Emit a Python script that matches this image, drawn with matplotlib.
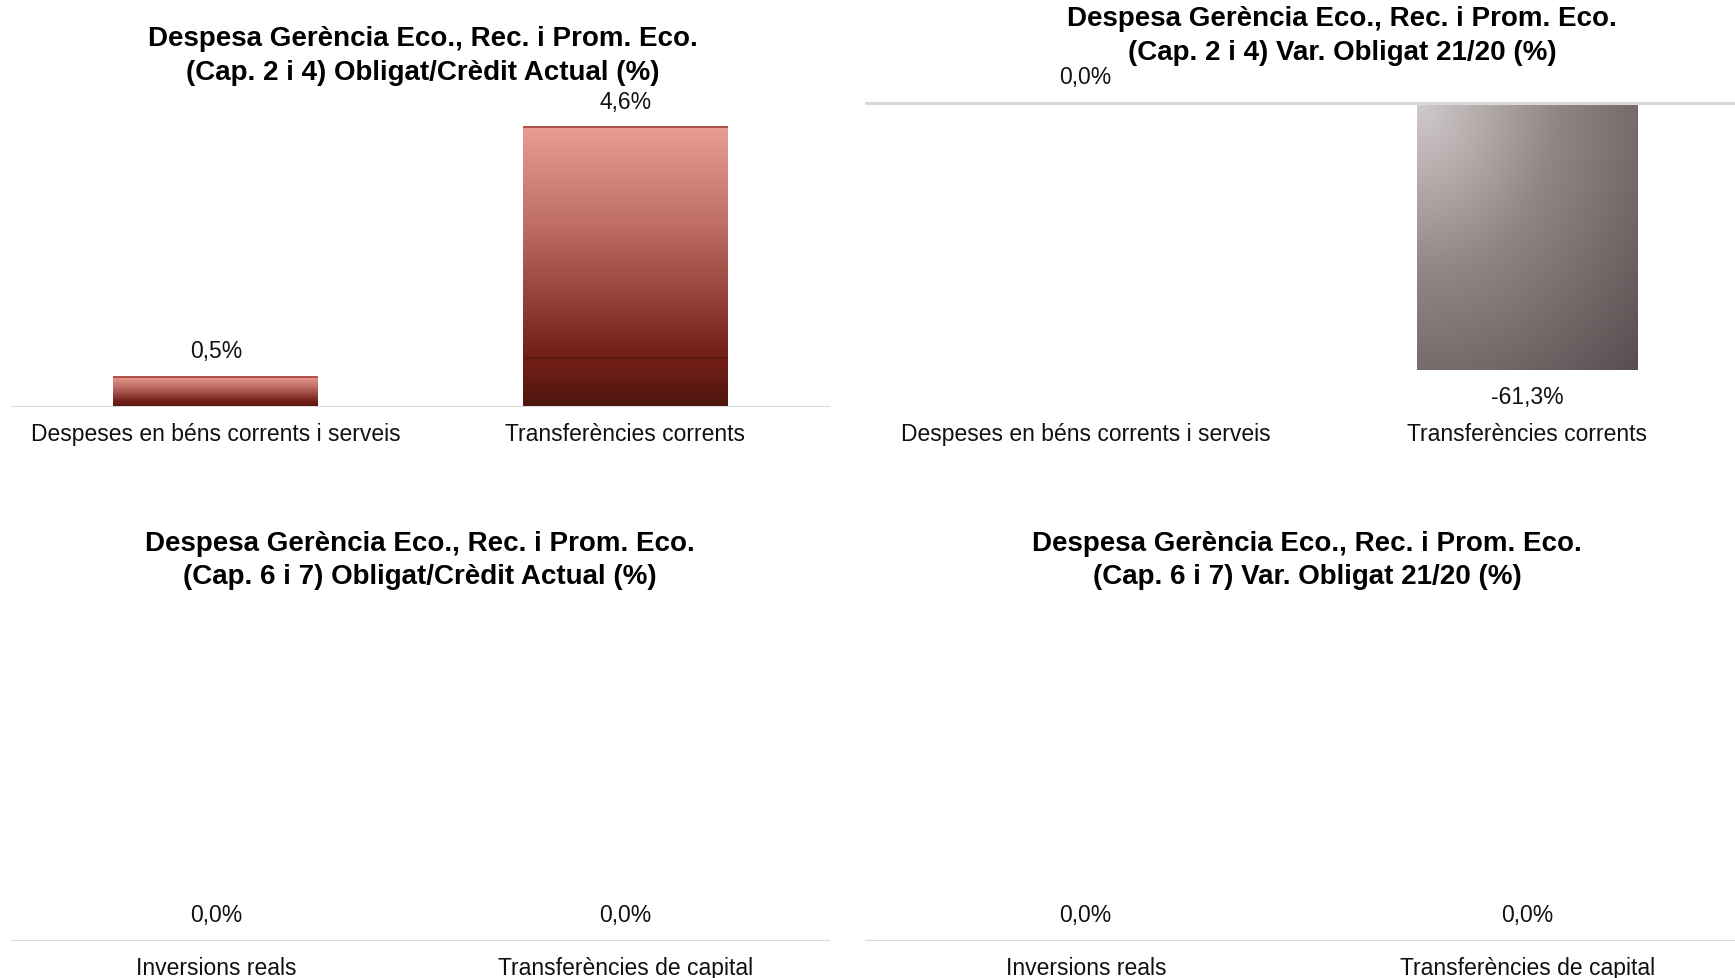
import numpy as np
import matplotlib
matplotlib.use("Agg")
import matplotlib.pyplot as plt
from matplotlib.colors import LinearSegmentedColormap

plt.rcParams['font.family'] = ['Liberation Sans', 'DejaVu Sans']

# ---- data ----
cats_top = ["Despeses en béns corrents i serveis", "Transferències corrents"]
cats_bottom = ["Inversions reals", "Transferències de capital"]
obl_cred_24 = [0.5, 4.6]
var_obl_24 = [0.0, -61.3]
obl_cred_67 = [0.0, 0.0]
var_obl_67 = [0.0, 0.0]

titles = [
    "Despesa Gerència Eco., Rec. i Prom. Eco.\n(Cap. 2 i 4) Obligat/Crèdit Actual (%)",
    "Despesa Gerència Eco., Rec. i Prom. Eco.\n(Cap. 2 i 4) Var. Obligat 21/20 (%)",
    "Despesa Gerència Eco., Rec. i Prom. Eco.\n(Cap. 6 i 7) Obligat/Crèdit Actual (%)",
    "Despesa Gerència Eco., Rec. i Prom. Eco.\n(Cap. 6 i 7) Var. Obligat 21/20 (%)",
]

W, H = 1735, 979
fig = plt.figure(figsize=(W / 100, H / 100), dpi=100)

def fx(px):
    return px / W

def fy(py):
    return 1 - py / H

red_cmap = LinearSegmentedColormap.from_list(
    "redgrad",
    [(0.0, (233/255, 157/255, 147/255)),
     (0.35, (190/255, 110/255, 100/255)),
     (0.82, (114/255, 31/255, 23/255)),
     (0.828, (92/255, 24/255, 17/255)),
     (0.836, (114/255, 31/255, 23/255)),
     (1.0, (78/255, 21/255, 15/255))])

grey_cmap = LinearSegmentedColormap.from_list(
    "greygrad",
    [(0.0, (210/255, 203/255, 203/255)),
     (0.45, (145/255, 134/255, 134/255)),
     (1.0, (88/255, 78/255, 79/255))])


def fmt(v):
    return f"{v:.1f}".replace(".", ",") + "%"


def make_panel(rect, cats, vals, ylim, style):
    ax = fig.add_axes(rect)
    ax.set_xlim(-0.5, 1.5)
    ax.set_ylim(*ylim)
    for s in ax.spines.values():
        s.set_visible(False)
    ax.set_yticks([])
    ax.set_xticks(range(len(cats)))
    ax.set_xticklabels(cats, fontsize=16.5, color="#111111")
    ax.tick_params(axis='x', length=0, pad=11)
    ax.axhline(0, color="#D9D9D9", lw=2.2, zorder=3)
    bars = ax.bar(range(len(cats)), vals, width=0.5, color="none", zorder=2)
    for b, v in zip(bars, vals):
        if v == 0:
            continue
        x0 = b.get_x()
        x1 = x0 + b.get_width()
        y0, y1 = sorted([0, v])
        if style == "red":
            grad = np.linspace(0, 1, 400).reshape(-1, 1)
            im = ax.imshow(grad, cmap=red_cmap, extent=[x0, x1, y0, y1],
                           origin="upper", aspect="auto", zorder=2,
                           interpolation="bilinear")
            ax.plot([x0, x1], [y1, y1], color="#A8463F", lw=1.3, zorder=3,
                    solid_capstyle="butt")
        else:
            yy, xx = np.mgrid[0:1:300j, 0:1:300j]
            d = np.sqrt(xx**2 + yy**2) / np.sqrt(2)
            im = ax.imshow(d, cmap=grey_cmap, extent=[x0, x1, y0, y1],
                           origin="upper", aspect="auto", zorder=2,
                           interpolation="bilinear")
        im.set_clip_path(b)
    ax.set_xlim(-0.5, 1.5)
    ax.set_ylim(*ylim)
    for i, v in enumerate(vals):
        off = -19 if v < 0 else 19
        ax.annotate(fmt(v), (i, v), xytext=(0, off), textcoords="offset points",
                    ha="center", va="center", fontsize=16.5, color="#111111",
                    annotation_clip=False)
    return ax

# panel geometry (pixels)
L_x0, L_x1 = 11, 830
R_x0, R_x1 = 865, 1748

# top-left
top_base = 408
make_panel([fx(L_x0), fy(top_base), fx(L_x1 - L_x0), (top_base - 94) / H],
           cats_top, obl_cred_24, (0, (top_base - 94) / ((top_base - 128.4) / 4.6)), "red")

# top-right
zero_y = 104
ppu = (370.7 - zero_y) / 61.3
make_panel([fx(R_x0), fy(top_base), fx(R_x1 - R_x0), (top_base - 60) / H],
           cats_top, var_obl_24, (-(top_base - zero_y) / ppu, (zero_y - 60) / ppu), "grey")

# bottom panels
bot_base = 941.6
make_panel([fx(L_x0), fy(bot_base), fx(L_x1 - L_x0), (bot_base - 600) / H],
           cats_bottom, obl_cred_67, (0, 1), "red")
make_panel([fx(R_x0), fy(bot_base), fx(R_x1 - R_x0), (bot_base - 600) / H],
           cats_bottom, var_obl_67, (0, 1), "grey")

# titles
title_pos = [(423, 56), (1342, 36), (420, 560.5), (1307, 560.5)]
for t, (x, y) in zip(titles, title_pos):
    fig.text(fx(x), fy(y), t, ha="center", va="center", fontsize=20,
             fontweight="bold", linespacing=1.39, color="#000000")

fig.savefig("out.png", dpi=100, facecolor="white")
